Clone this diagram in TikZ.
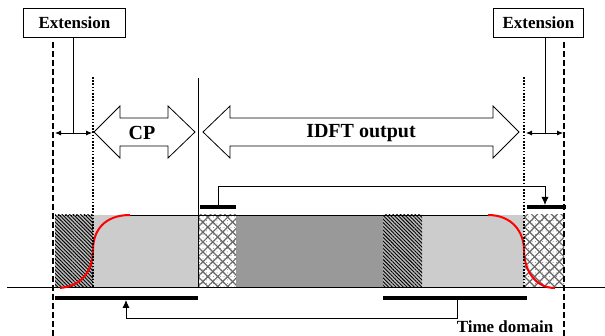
\documentclass[tikz,border=0pt]{standalone}
\usepackage{fontspec}
\setmainfont{Liberation Serif}
\usetikzlibrary{arrows.meta,patterns,patterns.meta}
\definecolor{lgray}{gray}{0.80}
\definecolor{dgray}{gray}{0.60}
\tikzset{
  lbl/.style={font=\bfseries\fontsize{17}{19}\selectfont, inner sep=0pt},
  bigl/.style={font=\bfseries\fontsize{20}{22}\selectfont, inner sep=0pt},
  extbox/.style={draw, line width=0.8pt, minimum width=102pt, minimum height=29pt, inner sep=0pt, font=\bfseries\fontsize{17}{19}\selectfont},
  dashv/.style={line width=2.4pt, dash pattern=on 6pt off 3pt},
  dotv/.style={line width=1.6pt, dash pattern=on 1.6pt off 1.6pt},
  thinln/.style={line width=0.8pt},
  thickbar/.style={line width=3.5pt},
  redc/.style={red, line width=2pt},
  hatchfill/.style={fill=gray!55, postaction={pattern={Lines[angle=-45,distance=2.6pt,line width=0.9pt]}, pattern color=black}},
  crossfill/.style={fill=white,
    postaction={pattern={Lines[angle=45,distance=7pt,line width=1.2pt]}, pattern color=black!60},
    postaction={pattern={Lines[angle=-45,distance=7pt,line width=1.2pt]}, pattern color=black!60},
    postaction={pattern={Dots[distance=3.5pt,radius=0.5pt]}, pattern color=black!50}},
  bigarrow/.style={draw, line width=0.8pt, fill=white},
}
\begin{document}
\begin{tikzpicture}[x=1pt,y=-1pt]
\useasboundingbox (0,0) rectangle (605,336);
% bar fills
\fill[lgray] (93,215) rectangle (198,288);
\fill[dgray] (236,215) rectangle (383,288);
\fill[lgray] (422,215) rectangle (524,288);
\path[hatchfill] (55,215) rectangle (93,288);
\path[hatchfill] (383,215) rectangle (422,288);
\path[crossfill] (198,215) rectangle (236,288);
\path[crossfill] (524,215) rectangle (564,288);
% top edges
\draw[thinln] (130,215) -- (488,215);
\draw[line width=0.6pt, dotted] (55,215) -- (93,215);
% baseline
\draw[line width=1pt] (7,288) -- (605,288);
% red curves
\draw[redc] (60,288) .. controls (84,286) and (93,268) .. (93,250) .. controls (93,230) and (105,215) .. (130,215);
\draw[redc] (488,215) .. controls (512,215) and (524,232) .. (524,250) .. controls (524,270) and (535,288) .. (555,288);
% vertical guide lines
\draw[dashv] (53,42) -- (53,336);
\draw[dashv] (564,42) -- (564,336);
\draw[dotv] (93,77) -- (93,288);
\draw[dotv] (524,77) -- (524,288);
\draw[thinln] (198,78) -- (198,288);
% extension boxes
\node[extbox] (extL) at (74.5,22.5) {Extension};
\node[extbox, minimum width=90pt] (extR) at (538.5,22.5) {Extension};
\coordinate (eL) at (73,133);
\coordinate (eR) at (545,133);
\draw[thinln] (extL.south -| eL) -- (eL);
\draw[thinln] (extR.south -| eR) -- (eR);
\coordinate (aL1) at (55,133); \coordinate (aL2) at (92,133);
\coordinate (aR1) at (526,133); \coordinate (aR2) at (563,133);
\draw[thinln, {Latex[length=6pt,width=5pt]}-{Latex[length=6pt,width=5pt]}] (aL1) -- (aL2);
\draw[thinln, {Latex[length=6pt,width=5pt]}-{Latex[length=6pt,width=5pt]}] (aR1) -- (aR2);
% big double arrows
\draw[bigarrow] (94,132) -- (120,106) -- (120,118) -- (168,118) -- (168,106) -- (195,132) -- (168,158) -- (168,146) -- (120,146) -- (120,158) -- cycle;
\node[bigl] (cp) at (142,133) {CP};
\draw[bigarrow] (203,132) -- (230,106) -- (230,118) -- (493,118) -- (493,106) -- (519,132) -- (493,158) -- (493,146) -- (230,146) -- (230,158) -- cycle;
\node[bigl] (idft) at (361,133) {IDFT output};
% top connector
\coordinate (tb1) at (200,207); \coordinate (tb2) at (236,207);
\coordinate (tb3) at (527,207); \coordinate (tb4) at (566,207);
\draw[thickbar] (tb1) -- (tb2);
\draw[thickbar] (tb3) -- (tb4);
\coordinate (tc1) at (218,207); \coordinate (tc2) at (545,205);
\draw[thinln, -{Latex[length=8pt,width=7pt]}] (tc1) -- (218,186) -- (545,186) -- (tc2);
% bottom connector
\coordinate (bb1) at (55,298); \coordinate (bb2) at (198,298);
\coordinate (bb3) at (383,298); \coordinate (bb4) at (527,298);
\draw[thickbar] (bb1) -- (bb2);
\draw[thickbar] (bb3) -- (bb4);
\coordinate (bc1) at (457,298); \coordinate (bc2) at (126,300);
\draw[thinln, -{Latex[length=8pt,width=7pt]}] (bc1) -- (457,318) -- (126,318) -- (bc2);
% label
\node[lbl] (td) at (505,327) {Time domain};
\end{tikzpicture}
\end{document}
